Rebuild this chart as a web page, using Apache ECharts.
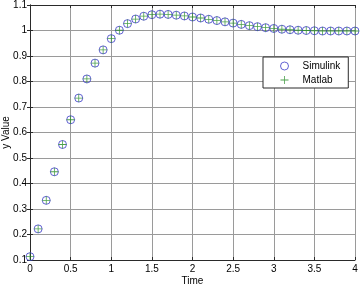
<!DOCTYPE html>
<html>
<head>
<meta charset="utf-8">
<script src="https://cdn.jsdelivr.net/npm/echarts@6/dist/echarts.min.js"></script>
<style>
  html, body { margin: 0; padding: 0; background: #fff; }
  #main { width: 362px; height: 286px; }
</style>
</head>
<body>
<div id="main"></div>
<script>
// time samples
var timeData = [0, 0.1, 0.2, 0.3, 0.4, 0.5, 0.6, 0.7, 0.8, 0.9,
  1.0, 1.1, 1.2, 1.3, 1.4, 1.5, 1.6, 1.7, 1.8, 1.9,
  2.0, 2.1, 2.2, 2.3, 2.4, 2.5, 2.6, 2.7, 2.8, 2.9,
  3.0, 3.1, 3.2, 3.3, 3.4, 3.5, 3.6, 3.7, 3.8, 3.9, 4.0];
// simulink output
var simulinkY = [0.113, 0.222, 0.334, 0.446, 0.553, 0.650, 0.735, 0.810, 0.872, 0.924,
  0.968, 1.001, 1.027, 1.045, 1.056, 1.062, 1.064, 1.063, 1.060, 1.057,
  1.053, 1.049, 1.044, 1.039, 1.034, 1.029, 1.024, 1.019, 1.015, 1.011,
  1.008, 1.005, 1.003, 1.001, 1.000, 0.999, 0.998, 0.998, 0.998, 0.998, 0.998];
// matlab output
var matlabY = [0.113, 0.222, 0.334, 0.446, 0.553, 0.650, 0.735, 0.810, 0.872, 0.924,
  0.968, 1.001, 1.027, 1.045, 1.056, 1.062, 1.064, 1.063, 1.060, 1.057,
  1.053, 1.049, 1.044, 1.039, 1.034, 1.029, 1.024, 1.019, 1.015, 1.011,
  1.008, 1.005, 1.003, 1.001, 1.000, 0.999, 0.998, 0.998, 0.998, 0.998, 0.998];

function pairs(xs, ys) {
  return xs.map(function (x, i) { return [x, ys[i]]; });
}

var chart = echarts.init(document.getElementById('main'), null, { renderer: 'canvas' });
var font = 'Liberation Sans, Arial, sans-serif';
var frameColor = '#2a2a2a';
var gridColor = '#9a9a9a';
var plusPath = 'path://M0,4.5h10v1h-10z M4.5,0h1v10h-1z';

var option = {
  backgroundColor: '#fff',
  animation: false,
  grid: { left: 30, right: 7, top: 5, bottom: 26, containLabel: false, outerBoundsMode: 'none' },
  legend: {
    left: 263,
    top: 57,
    orient: 'vertical',
    data: [
      { name: 'Simulink', itemStyle: { borderWidth: 1 } },
      { name: 'Matlab' }
    ],
    backgroundColor: '#fff',
    borderColor: frameColor,
    borderWidth: 1,
    borderRadius: 0,
    padding: [4, 8, 3, 17],
    itemGap: 4,
    itemWidth: 8,
    itemHeight: 8,
    textStyle: { fontFamily: font, fontSize: 10, color: '#000', padding: [0, 0, 0, 9] }
  },
  xAxis: [{
    type: 'value',
    min: 0, max: 4, interval: 0.5,
    name: 'Time',
    nameLocation: 'middle',
    nameGap: 16,
    nameMoveOverlap: false,
    nameTextStyle: { fontFamily: font, fontSize: 10, color: '#000' },
    axisLine: { show: true, lineStyle: { color: frameColor } },
    axisTick: { show: true, inside: true, length: 3, lineStyle: { color: frameColor } },
    axisLabel: { fontFamily: font, fontSize: 10, color: '#000', margin: 4 },
    splitLine: { show: true, lineStyle: { color: gridColor, width: 1 } }
  }, {
    type: 'value',
    position: 'top',
    min: 0, max: 4, interval: 0.5,
    axisLine: { show: true, lineStyle: { color: frameColor } },
    axisTick: { show: true, inside: true, length: 3, lineStyle: { color: frameColor } },
    axisLabel: { show: false },
    splitLine: { show: false }
  }],
  yAxis: [{
    type: 'value',
    min: 0.1, max: 1.1, interval: 0.1,
    name: 'y Value',
    nameLocation: 'middle',
    nameGap: 19,
    nameMoveOverlap: false,
    nameTextStyle: { fontFamily: font, fontSize: 10, color: '#000' },
    axisLine: { show: true, lineStyle: { color: frameColor } },
    axisTick: { show: true, inside: true, length: 3, lineStyle: { color: frameColor } },
    axisLabel: {
      fontFamily: font, fontSize: 10, color: '#000', margin: 3,
      formatter: function (v) { return String(Math.round(v * 10) / 10); }
    },
    splitLine: { show: true, lineStyle: { color: gridColor, width: 1 } }
  }, {
    type: 'value',
    position: 'right',
    min: 0.1, max: 1.1, interval: 0.1,
    axisLine: { show: true, lineStyle: { color: frameColor } },
    axisTick: { show: true, inside: true, length: 3, lineStyle: { color: frameColor } },
    axisLabel: { show: false },
    splitLine: { show: false }
  }],
  series: [{
    name: 'Simulink',
    type: 'scatter',
    symbol: 'circle',
    symbolSize: 8,
    itemStyle: { color: 'rgba(0,0,0,0)', borderColor: '#3c3cc8', borderWidth: 1 },
    data: pairs(timeData, simulinkY)
  }, {
    name: 'Matlab',
    type: 'scatter',
    symbol: plusPath,
    symbolSize: 8,
    itemStyle: { color: '#1f8a1f' },
    data: pairs(timeData, matlabY)
  }]
};
chart.setOption(option);
</script>
</body>
</html>
